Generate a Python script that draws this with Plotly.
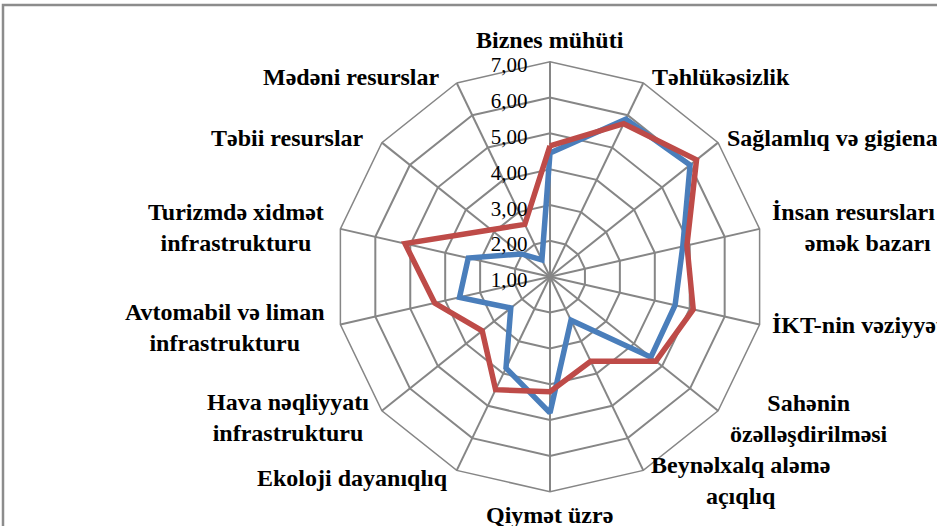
import plotly.graph_objects as go

# ---------------- data ----------------
categories = [
    "Biznes mühüti",
    "Təhlükəsizlik",
    "Sağlamlıq və gigiena",
    "İnsan resursları və<br>əmək bazarı",
    "İKT-nin vəziyyəti",
    "Sahənin<br>özəlləşdirilməsi",
    "Beynəlxalq aləmə<br>açıqlıq",
    "Qiymət üzrə",
    "Ekoloji dayanıqlıq",
    "Hava nəqliyyatı<br>infrastrukturu",
    "Avtomabil və liman<br>infrastrukturu",
    "Turizmdə xidmət<br>infrastrukturu",
    "Təbii resurslar",
    "Mədəni resurslar",
]
series_1 = [4.45, 5.88, 6.00, 4.80, 4.58, 4.60, 2.35, 4.80, 3.83, 2.40, 3.59, 3.34, 2.02, 1.52]
series_2 = [4.65, 5.74, 6.23, 4.92, 5.10, 4.78, 3.62, 4.21, 4.50, 3.42, 4.30, 5.15, 3.10, 2.62]
radial_ticks = [1, 2, 3, 4, 5, 6, 7]

# ---------------- layout helpers ----------------
W, H = 937, 526
CX, CY, R = 550, 276.7, 215  # polar centre / radius in px

# label placement (px): x, y, xanchor, yanchor
label_pos = [
    (550, 40, "center", "middle"),
    (721, 77, "center", "middle"),
    (725, 138, "left", "middle"),
    (770, 227, "left", "middle"),
    (770, 325, "left", "middle"),
    (809, 418, "center", "middle"),
    (740, 480, "center", "middle"),
    (549, 515, "center", "middle"),
    (352, 478, "center", "middle"),
    (288, 417, "center", "middle"),
    (225, 327, "center", "middle"),
    (236, 227, "center", "middle"),
    (287, 138, "center", "middle"),
    (351, 77, "center", "middle"),
]

cats_closed = categories + [categories[0]]
grid_col = "#868686"

fig = go.Figure()
fig.add_trace(go.Scatterpolar(
    r=series_1 + [series_1[0]], theta=cats_closed, mode="lines",
    line=dict(color="#4A7EBB", width=5.5), name="Seriya 1", showlegend=False,
))
fig.add_trace(go.Scatterpolar(
    r=series_2 + [series_2[0]], theta=cats_closed, mode="lines",
    line=dict(color="#BE4B48", width=5.5), name="Seriya 2", showlegend=False,
))

annotations = []
for text, (px, py, xa, ya) in zip(categories, label_pos):
    annotations.append(dict(
        text=text, x=px / W, y=1 - py / H, xref="paper", yref="paper",
        xanchor=xa, yanchor=ya, align="center", showarrow=False,
        font=dict(family="Liberation Serif", size=24, color="black", weight="bold"),
    ))

fig.update_layout(
    width=W, height=H,
    margin=dict(l=0, r=0, t=0, b=0),
    paper_bgcolor="white",
    separators=", ",
    showlegend=False,
    polar=dict(
        domain=dict(x=[(CX - R) / W, (CX + R) / W], y=[1 - (CY + R) / H, 1 - (CY - R) / H]),
        bgcolor="white",
        gridshape="linear",
        angularaxis=dict(
            direction="clockwise", rotation=90, showticklabels=False, ticks="",
            showgrid=True, gridcolor=grid_col, gridwidth=1.5,
            showline=True, linecolor=grid_col, linewidth=1.5,
        ),
        radialaxis=dict(
            range=[1, 7], tickvals=radial_ticks, tickformat=".2f",
            angle=90, side="counterclockwise", showline=False,
            ticks="outside", ticklen=3, tickcolor="rgba(0,0,0,0)",
            showgrid=True, gridcolor=grid_col, gridwidth=1.5,
            tickfont=dict(family="Liberation Serif", size=21, color="black"),
        ),
    ),
    annotations=annotations,
    shapes=[dict(
        type="rect", xref="paper", yref="paper",
        x0=3 / W, x1=1.2, y0=-0.2, y1=1 - 5 / H,
        line=dict(color="#8c8c8c", width=2.5), fillcolor="rgba(0,0,0,0)",
        layer="below",
    )],
)

fig.write_html(
    "out.html",
    config={"displayModeBar": False},
    post_script="document.body.style.margin='0px';",
)
